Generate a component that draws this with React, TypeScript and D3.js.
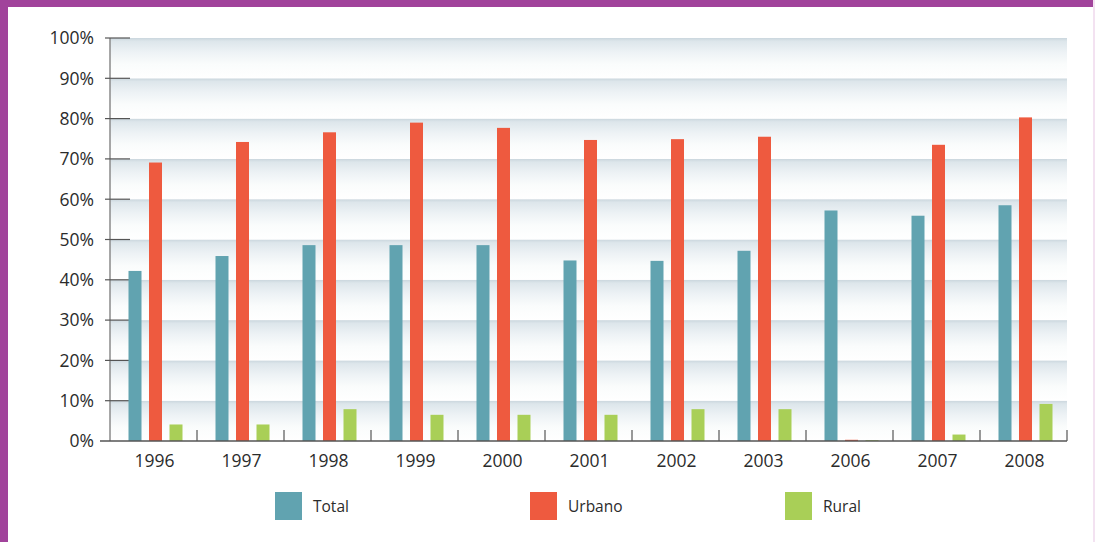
import React, { useEffect, useRef } from 'react';
import * as d3 from 'd3';

const years = ['1996', '1997', '1998', '1999', '2000', '2001', '2002', '2003', '2006', '2007', '2008'];
const seriesNames = ['Total', 'Urbano', 'Rural'];
const totalValues = [42.2, 45.9, 48.6, 48.6, 48.6, 44.8, 44.7, 47.2, 57.2, 55.9, 58.5];
const urbanoValues = [69.1, 74.2, 76.6, 79.0, 77.7, 74.7, 74.9, 75.5, 0.3, 73.5, 80.3];
const ruralValues = [4.1, 4.1, 7.9, 6.5, 6.5, 6.5, 7.9, 7.9, 0.2, 1.6, 9.2];
const yTicks = [0, 10, 20, 30, 40, 50, 60, 70, 80, 90, 100];
const seriesColors = ['#61a3b0', '#ee5a3f', '#a9cf57'];

const FONT = '"Open Sans", "Liberation Sans", sans-serif';

export default function App() {
  const svgRef = useRef<SVGSVGElement>(null);

  useEffect(() => {
    if (!svgRef.current) return;
    const width = 1095;
    const height = 542;

    const svg = d3.select(svgRef.current);
    svg.selectAll('*').remove();
    svg.attr('width', width).attr('height', height);

    // background + purple frame
    svg.append('rect').attr('width', width).attr('height', height).attr('fill', '#ffffff');
    svg.append('rect').attr('x', 0).attr('y', 0).attr('width', width).attr('height', 7).attr('fill', '#a1439b');
    svg.append('rect').attr('x', 0).attr('y', 0).attr('width', 8).attr('height', height).attr('fill', '#a1439b');
    svg.append('rect').attr('x', 1093).attr('y', 0).attr('width', 2).attr('height', height).attr('fill', '#f3e2f1');

    const x0 = d3.scaleBand<string>().domain(years).range([110, 1067]).padding(0);
    const x1 = d3.scaleBand<string>().domain(seriesNames).range([18.5, 72.5]).paddingInner(0.366).paddingOuter(0);
    const y = d3.scaleLinear().domain([0, 100]).range([441, 38]);

    const defs = svg.append('defs');
    const grad = defs.append('linearGradient')
      .attr('id', 'band')
      .attr('x1', 0).attr('y1', 0).attr('x2', 0).attr('y2', 1);
    grad.append('stop').attr('offset', '0%').attr('stop-color', '#cad6dd');
    grad.append('stop').attr('offset', '8%').attr('stop-color', '#dde6eb');
    grad.append('stop').attr('offset', '35%').attr('stop-color', '#edf2f5');
    grad.append('stop').attr('offset', '65%').attr('stop-color', '#fafcfc');
    grad.append('stop').attr('offset', '100%').attr('stop-color', '#ffffff');

    // gradient bands under each gridline
    const bandH = y(0) - y(10);
    svg.append('g').selectAll('rect')
      .data(yTicks.filter(t => t > 0))
      .enter()
      .append('rect')
      .attr('x', 110)
      .attr('y', d => y(d))
      .attr('width', 1067 - 110)
      .attr('height', bandH)
      .attr('fill', 'url(#band)');

    // y axis
    svg.append('line')
      .attr('x1', 110).attr('x2', 110)
      .attr('y1', y(100)).attr('y2', y(0))
      .attr('stroke', '#8a8a8a').attr('stroke-width', 1.5);

    const yAxis = svg.append('g');
    yAxis.selectAll('line')
      .data(yTicks.filter(t => t > 0))
      .enter()
      .append('line')
      .attr('x1', 105).attr('x2', 130)
      .attr('y1', d => y(d)).attr('y2', d => y(d))
      .attr('stroke', '#555').attr('stroke-width', 1.2);
    yAxis.selectAll('text')
      .data(yTicks)
      .enter()
      .append('text')
      .attr('x', 94)
      .attr('y', d => y(d))
      .attr('dy', '0.36em')
      .attr('text-anchor', 'end')
      .style('font-family', FONT)
      .style('font-size', '17.5px')
      .attr('fill', '#2b2b2b')
      .text(d => `${d}%`);

    // bars
    const seriesData = [totalValues, urbanoValues, ruralValues];
    const groups = svg.append('g').selectAll('g')
      .data(years)
      .enter()
      .append('g')
      .attr('transform', d => `translate(${x0(d)},0)`);

    groups.selectAll('rect')
      .data((_d, i) => seriesNames.map((s, k) => ({ s, v: seriesData[k][i], c: seriesColors[k] })))
      .enter()
      .append('rect')
      .attr('x', d => x1(d.s)!)
      .attr('width', x1.bandwidth())
      .attr('y', d => y(d.v))
      .attr('height', d => y(0) - y(d.v))
      .attr('fill', d => d.c);

    // x axis
    svg.append('line')
      .attr('x1', 100).attr('x2', 1067)
      .attr('y1', y(0)).attr('y2', y(0))
      .attr('stroke', '#555').attr('stroke-width', 1.5);
    svg.append('g').selectAll('line')
      .data(years)
      .enter()
      .append('line')
      .attr('x1', d => x0(d)! + x0.bandwidth())
      .attr('x2', d => x0(d)! + x0.bandwidth())
      .attr('y1', y(0) - 11).attr('y2', y(0))
      .attr('stroke', '#555').attr('stroke-width', 1.2);
    svg.append('g').selectAll('text')
      .data(years)
      .enter()
      .append('text')
      .attr('x', d => x0(d)! + x0.bandwidth() / 2 + 1)
      .attr('y', 467)
      .attr('text-anchor', 'middle')
      .style('font-family', FONT)
      .style('font-size', '17.5px')
      .attr('fill', '#2b2b2b')
      .text(d => d);

    // legend
    const lx = d3.scalePoint<string>().domain(seriesNames).range([275, 785]);
    const legend = svg.append('g').selectAll('g')
      .data(seriesNames)
      .enter()
      .append('g')
      .attr('transform', d => `translate(${lx(d)},492)`);
    legend.append('rect')
      .attr('width', 27).attr('height', 28)
      .attr('fill', (_d, i) => seriesColors[i]);
    legend.append('text')
      .attr('x', 38).attr('y', 14)
      .attr('dy', '0.36em')
      .style('font-family', FONT)
      .style('font-size', '15.5px')
      .attr('fill', '#2b2b2b')
      .text(d => d);
  }, []);

  return (
    <div style={{ position: 'absolute', left: 0, top: 0 }}>
      <svg ref={svgRef} style={{ display: 'block' }}></svg>
    </div>
  );
}
